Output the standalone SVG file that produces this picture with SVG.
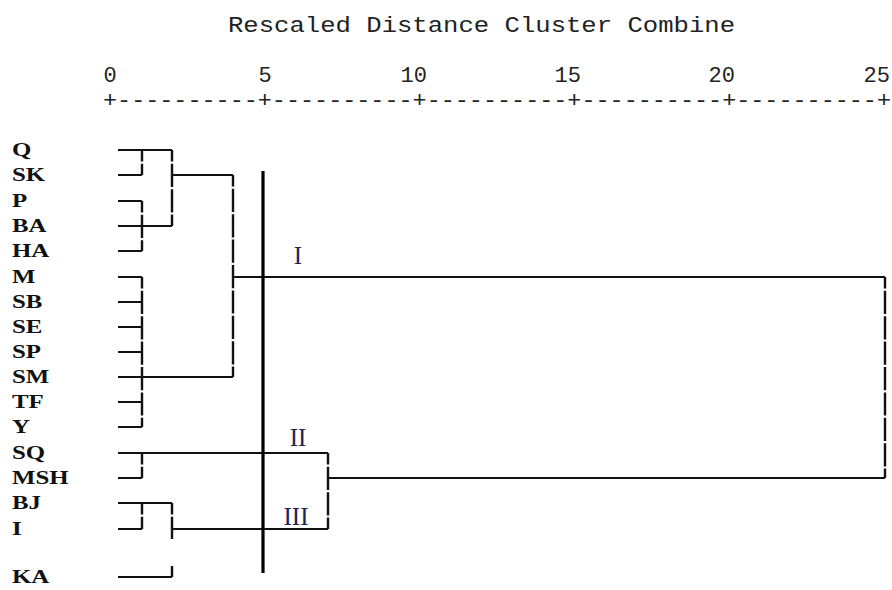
<svg xmlns="http://www.w3.org/2000/svg" width="892" height="590" viewBox="0 0 892 590">
<style>
.mono{font-family:"Liberation Mono","Courier New",monospace;font-size:22px;fill:#222}
.lab{font-family:"Liberation Serif","Times New Roman",serif;font-size:18px;font-weight:bold;fill:#111}
.cl{font-family:"Liberation Serif","Times New Roman",serif;font-size:25px;fill:#1c2557;text-anchor:middle}
.h{stroke:#111;stroke-width:2;fill:none}
.v{stroke:#111;stroke-width:2.4;fill:none;stroke-dasharray:11.6 2.2 11.6 0}
</style>
<rect width="892" height="590" fill="#fff"/>
<g id="axis">
<text class="mono" x="228" y="32" textLength="507" lengthAdjust="spacingAndGlyphs">Rescaled Distance Cluster Combine</text>
<text class="mono" x="110" y="82" text-anchor="middle">0</text>
<text class="mono" x="265" y="82" text-anchor="middle">5</text>
<text class="mono" x="427" y="82" text-anchor="end">10</text>
<text class="mono" x="581" y="82" text-anchor="end">15</text>
<text class="mono" x="735" y="82" text-anchor="end">20</text>
<text class="mono" x="890" y="82" text-anchor="end">25</text>
<text class="mono" x="103" y="107" textLength="788" lengthAdjust="spacingAndGlyphs">+----------+----------+----------+----------+----------+</text>
</g>
<g id="labels" transform="translate(12,0) scale(1.38,1)">
<g id="n-Q"><text class="lab" x="0" y="156">Q</text></g>
<g id="n-SK"><text class="lab" x="0" y="181">SK</text></g>
<g id="n-P"><text class="lab" x="0" y="207">P</text></g>
<g id="n-BA"><text class="lab" x="0" y="232">BA</text></g>
<g id="n-HA"><text class="lab" x="0" y="257">HA</text></g>
<g id="n-M"><text class="lab" x="0" y="283">M</text></g>
<g id="n-SB"><text class="lab" x="0" y="308">SB</text></g>
<g id="n-SE"><text class="lab" x="0" y="333">SE</text></g>
<g id="n-SP"><text class="lab" x="0" y="358">SP</text></g>
<g id="n-SM"><text class="lab" x="0" y="383">SM</text></g>
<g id="n-TF"><text class="lab" x="0" y="408">TF</text></g>
<g id="n-Y"><text class="lab" x="0" y="433">Y</text></g>
<g id="n-SQ"><text class="lab" x="0" y="459">SQ</text></g>
<g id="n-MSH"><text class="lab" x="0" y="484">MSH</text></g>
<g id="n-BJ"><text class="lab" x="0" y="509">BJ</text></g>
<g id="n-I"><text class="lab" x="0" y="535">I</text></g>
<g id="n-KA"><text class="lab" x="0" y="583">KA</text></g>
</g>
<g id="connectors">
<path class="h" d="M118 150H172M118 175H142M118 201H142M118 226H172M118 251H142M118 277H142M118 302H142M118 327H142M118 352H142M118 377H233M118 402H142M118 427H142M118 453H328M118 478H142M118 503H172M118 529H142M118 577H172"/>
<path class="h" d="M172 175H233M233 277H885M328 478H885M172 529H328"/>
<path class="v" d="M142 150V175M142 201V251M142 277V427M142 453V478M142 503V529"/>
<path class="v" d="M172 150V226M172 503V539M172 566V577"/>
<path class="v" d="M233 175V377M328 453V529M885 277V478"/>
</g>
<g id="cut">
<line x1="263" y1="171" x2="263" y2="573" stroke="#000" stroke-width="3.2"/>
</g>
<g id="cluster-I"><text class="cl" x="298" y="264">I</text></g>
<g id="cluster-II"><text class="cl" x="298" y="446">II</text></g>
<g id="cluster-III"><text class="cl" x="296" y="525">III</text></g>
</svg>
